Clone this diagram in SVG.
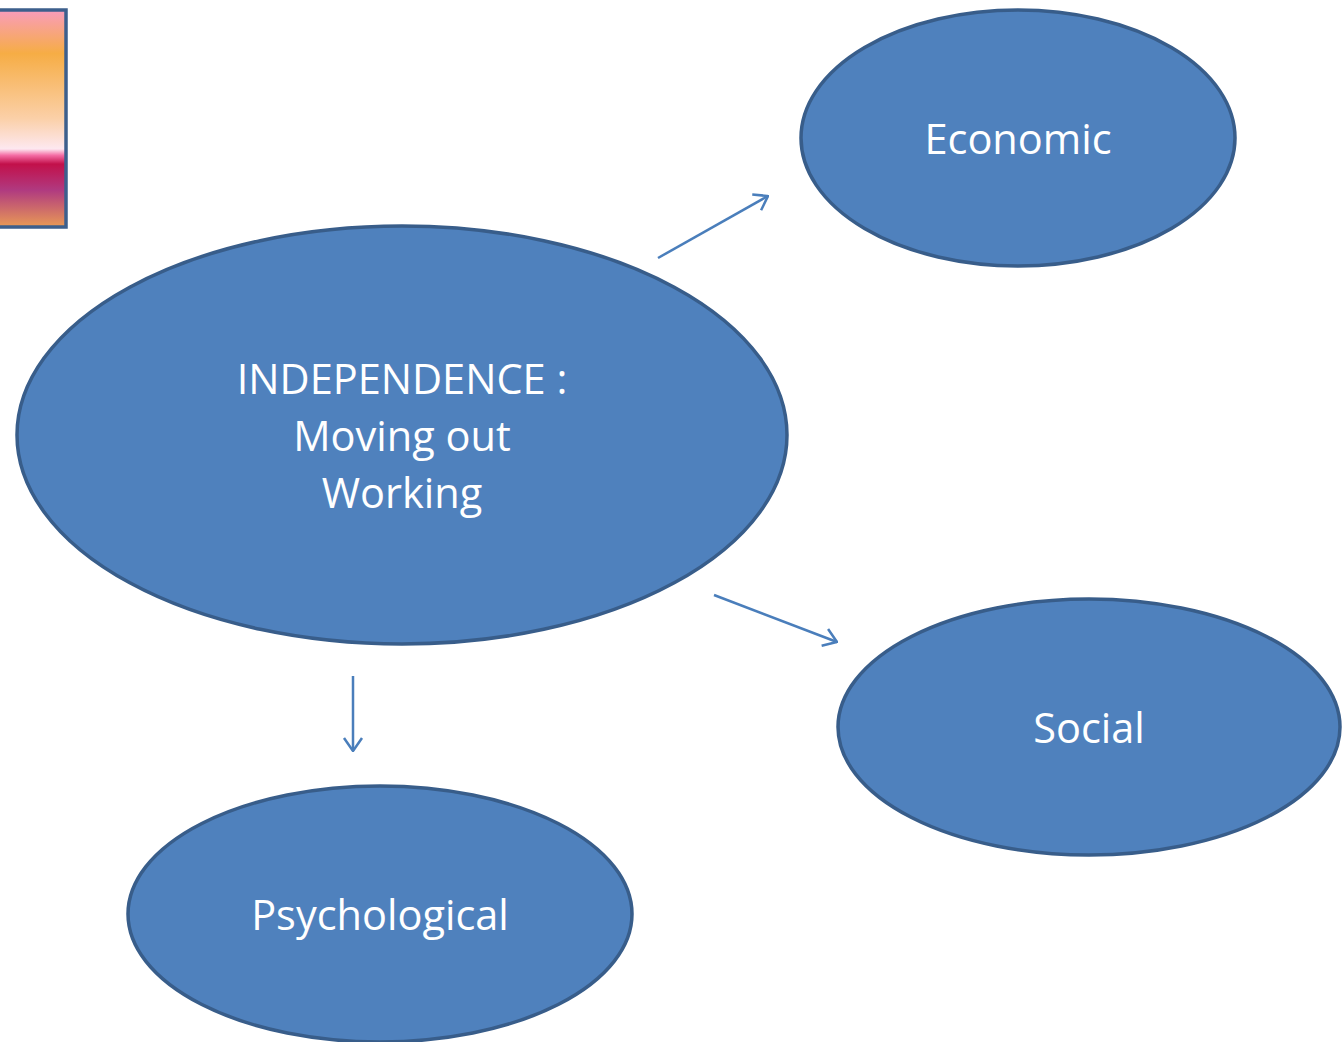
<svg xmlns="http://www.w3.org/2000/svg" width="1342" height="1042" viewBox="0 0 1342 1042">
<style>
.node{fill:#4f81bd;stroke:#385d8a;stroke-width:3.5}
.lbl{fill:#ffffff;font-family:"Open Sans","Noto Sans","Liberation Sans",sans-serif;font-size:41.5px;text-anchor:middle}
.conn{stroke:#4a7ebb;stroke-width:2.5;fill:none}
</style>
<defs>
<linearGradient id="g" x1="0" y1="0" x2="0" y2="1">
<stop offset="0" stop-color="#f99cbc"/>
<stop offset="0.2" stop-color="#f6ad45"/>
<stop offset="0.5" stop-color="#fbd0a8"/>
<stop offset="0.64" stop-color="#fde8f0"/>
<stop offset="0.67" stop-color="#f46ca4"/>
<stop offset="0.71" stop-color="#c2104a"/>
<stop offset="0.83" stop-color="#b03a80"/>
<stop offset="1" stop-color="#e99a55"/>
</linearGradient>
<marker id="arr" viewBox="0 0 16 22" refX="15" refY="11" markerWidth="16" markerHeight="22" markerUnits="userSpaceOnUse" orient="auto">
<path d="M2,2 L15,11 L2,20" fill="none" stroke="#4a7ebb" stroke-width="2.5"/>
</marker>
</defs>
<g id="swatch">
<rect x="-4" y="10" width="70" height="217" fill="url(#g)" stroke="#3d5f8c" stroke-width="3.5"/>
</g>
<g id="connectors">
<line class="conn" x1="658" y1="258" x2="768" y2="196" marker-end="url(#arr)"/>
<line class="conn" x1="714" y1="595" x2="837" y2="642" marker-end="url(#arr)"/>
<line class="conn" x1="353" y1="676" x2="353" y2="751" marker-end="url(#arr)"/>
</g>
<g id="independence">
<ellipse class="node" cx="402" cy="435" rx="385" ry="209"/>
<text class="lbl" x="402" y="394">INDEPENDENCE :</text>
<text class="lbl" x="402" y="451">Moving out</text>
<text class="lbl" x="402" y="508">Working</text>
</g>
<g id="economic">
<ellipse class="node" cx="1018" cy="138" rx="217" ry="128"/>
<text class="lbl" x="1018" y="154">Economic</text>
</g>
<g id="social">
<ellipse class="node" cx="1089" cy="727" rx="251" ry="128"/>
<text class="lbl" x="1089" y="743">Social</text>
</g>
<g id="psychological">
<ellipse class="node" cx="380" cy="914" rx="252" ry="128"/>
<text class="lbl" x="380" y="930">Psychological</text>
</g>
</svg>
